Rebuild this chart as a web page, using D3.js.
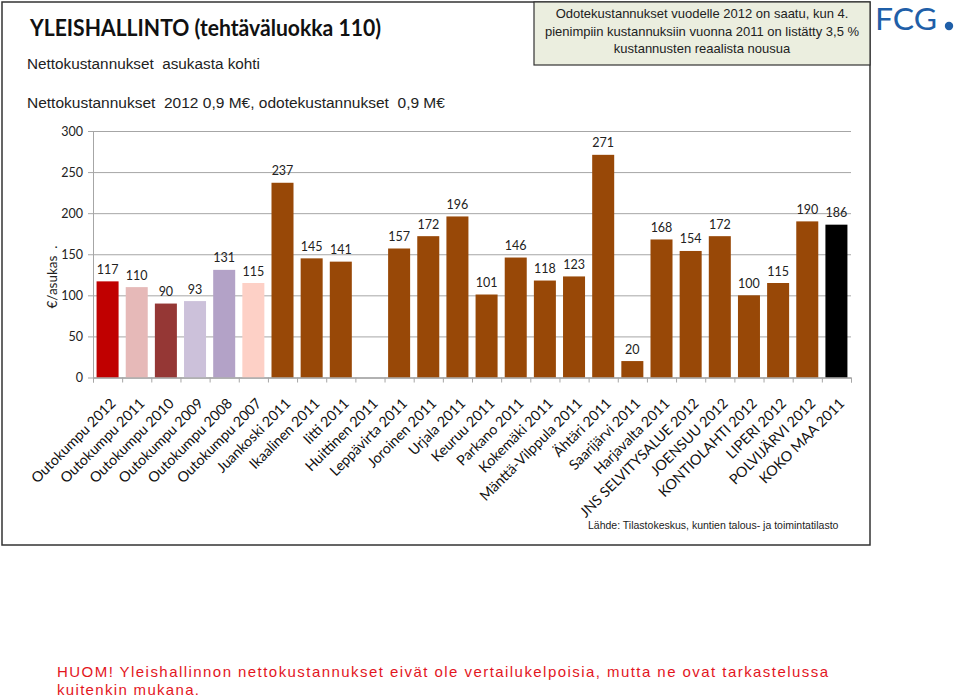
<!DOCTYPE html>
<html><head><meta charset="utf-8">
<script src="https://cdn.jsdelivr.net/npm/d3@7"></script>
<style>
html,body{margin:0;padding:0;background:#fff;}
svg{display:block;}
</style></head>
<body>
<svg id="chart" width="960" height="698"></svg>
<script>
const categories = ["Outokumpu 2012","Outokumpu 2011","Outokumpu 2010","Outokumpu 2009","Outokumpu 2008","Outokumpu 2007","Juankoski 2011","Ikaalinen 2011","Iitti 2011","Huittinen 2011","Leppävirta 2011","Joroinen 2011","Urjala 2011","Keuruu 2011","Parkano 2011","Kokemäki 2011","Mänttä-Vilppula 2011","Ähtäri 2011","Saarijärvi 2011","Harjavalta 2011","JNS SELVITYSALUE 2012","JOENSUU 2012","KONTIOLAHTI 2012","LIPERI 2012","POLVIJÄRVI 2012","KOKO MAA 2011"];
const values = [117,110,90,93,131,115,237,145,141,null,157,172,196,101,146,118,123,271,20,168,154,172,100,115,190,186];
const barColors = ["#c00000","#e6b9b8","#953735","#ccc1da","#b3a2c7","#fdd0c6","#984807","#984807","#984807","#984807","#984807","#984807","#984807","#984807","#984807","#984807","#984807","#984807","#984807","#984807","#984807","#984807","#984807","#984807","#984807","#000000"];
const yTicks = [0,50,100,150,200,250,300];

(function(){
const svg = d3.select("#chart");
const FONT = "Lato, 'Open Sans', sans-serif";
const ARIAL = "'Liberation Sans', Arial, sans-serif";

// outer frame
svg.append("rect").attr("x",2).attr("y",2).attr("width",868).attr("height",543)
  .attr("fill","none").attr("stroke","#333").attr("stroke-width",1.5);

// note box
svg.append("rect").attr("x",534).attr("y",2).attr("width",336).attr("height",63)
  .attr("fill","#ebeedf").attr("stroke","#333").attr("stroke-width",1.2);
const noteLines = ["Odotekustannukset vuodelle 2012 on saatu, kun 4.","pienimpiin kustannuksiin vuonna 2011 on listätty 3,5 %","kustannusten reaalista nousua"];
svg.append("g").selectAll("text").data(noteLines).join("text")
  .attr("x",702).attr("y",(d,i)=>18+i*17.5).attr("text-anchor","middle")
  .attr("font-family",ARIAL).attr("font-size",13).attr("fill","#222").text(d=>d);

// titles
svg.append("text").attr("x",30).attr("y",36).attr("font-family",FONT).attr("font-weight","bold")
  .attr("font-size",23).attr("fill","#111").attr("textLength",351).attr("lengthAdjust","spacingAndGlyphs")
  .text("YLEISHALLINTO (tehtäväluokka 110)");
svg.append("text").attr("x",27).attr("y",69).attr("font-family",ARIAL).attr("font-size",15.3).attr("fill","#222")
  .attr("xml:space","preserve").text("Nettokustannukset  asukasta kohti");
svg.append("text").attr("x",27).attr("y",108).attr("font-family",ARIAL).attr("font-size",15.5).attr("fill","#222")
  .attr("xml:space","preserve").text("Nettokustannukset  2012 0,9 M€, odotekustannukset  0,9 M€");

// logo
svg.append("text").attr("x",875).attr("y",30).attr("font-family",FONT).attr("font-size",31)
  .attr("fill","#1f5fa8").attr("textLength",62).attr("lengthAdjust","spacingAndGlyphs").text("FCG");
svg.append("circle").attr("cx",949).attr("cy",26).attr("r",4.2).attr("fill","#1f5fa8");

// chart
const pLeft = 93, pRight = 851, pTop = 131, pBottom = 377.5;
const x = d3.scaleBand().domain(categories).range([pLeft,pRight]).paddingInner(0.245).paddingOuter(0.1225);
const xi = d3.scaleLinear().domain([0,categories.length]).range([pLeft,pRight]);
const y = d3.scaleLinear().domain([0,300]).range([pBottom,pTop]);

// gridlines + y axis
const yAxis = d3.axisLeft(y).tickValues(yTicks).tickSize(-(pRight-pLeft)).tickPadding(10);
const gy = svg.append("g").attr("transform",`translate(${pLeft},0)`).call(yAxis);
gy.select(".domain").attr("stroke","#a6a6a6");
gy.selectAll(".tick line").attr("stroke","#a6a6a6").attr("x1",-5);
gy.selectAll(".tick text").attr("font-family",FONT).attr("font-size",12.5).attr("fill","#222");

svg.append("text").attr("transform",`translate(57,277) rotate(-90)`).attr("text-anchor","middle")
  .attr("font-family",FONT).attr("font-size",13.5).attr("fill","#222").attr("xml:space","preserve").text("€/asukas  .");

// bars
const data = categories.map((c,i)=>({c, v:values[i], col:barColors[i]}));
svg.append("g").selectAll("rect").data(data.filter(d=>d.v!=null)).join("rect")
  .attr("x",d=>x(d.c)).attr("width",x.bandwidth())
  .attr("y",d=>y(d.v)).attr("height",d=>y(0)-y(d.v)).attr("fill",d=>d.col);

// x axis with boundary ticks
const xAxis = d3.axisBottom(xi).tickValues(d3.range(categories.length+1)).tickFormat("").tickSize(5);
const gx = svg.append("g").attr("transform",`translate(0,${pBottom})`).call(xAxis);
gx.select(".domain").attr("stroke","#a6a6a6");
gx.selectAll(".tick line").attr("stroke","#a6a6a6");

// data labels
svg.append("g").selectAll("text").data(data.filter(d=>d.v!=null)).join("text")
  .attr("x",d=>x(d.c)+x.bandwidth()/2).attr("y",d=>y(d.v)-7.5).attr("text-anchor","middle")
  .attr("font-family",FONT).attr("font-size",12.5).attr("fill","#222").text(d=>d.v);

// x labels
svg.append("g").selectAll("text").data(categories).join("text")
  .attr("transform",d=>`translate(${x(d)+x.bandwidth()/2+9},${pBottom+27}) rotate(-45)`)
  .attr("text-anchor","end")
  .attr("font-family",FONT).attr("font-size",14.3).attr("fill","#111").text(d=>d);

// source
svg.append("text").attr("x",588).attr("y",529).attr("font-family",ARIAL).attr("font-size",10.5)
  .attr("fill","#222").text("Lähde: Tilastokeskus, kuntien talous- ja toimintatilasto");

// note in red
svg.append("text").attr("x",57).attr("y",677).attr("font-family",ARIAL).attr("font-size",15)
  .attr("fill","#e3161e").attr("textLength",771).attr("lengthAdjust","spacing")
  .text("HUOM! Yleishallinnon nettokustannukset eivät ole vertailukelpoisia, mutta ne ovat tarkastelussa");
svg.append("text").attr("x",57).attr("y",695).attr("font-family",ARIAL).attr("font-size",15)
  .attr("fill","#e3161e").attr("textLength",142).attr("lengthAdjust","spacing")
  .text("kuitenkin mukana.");
})();
</script>
</body></html>
